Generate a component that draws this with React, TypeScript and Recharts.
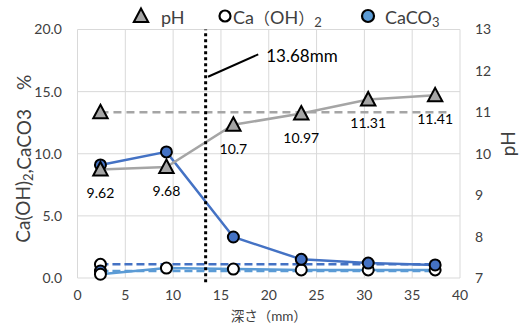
import React from 'react';
import {
  ComposedChart,
  Line,
  XAxis,
  YAxis,
  CartesianGrid,
  ReferenceLine,
  ReferenceDot,
  LabelList,
  Legend,
} from 'recharts';

// ---- data ----
const depthMm = [2.4, 9.3, 16.3, 23.4, 30.4, 37.4];
const phValues = [9.62, 9.68, 10.7, 10.97, 11.31, 11.41];
const caOH2Values = [0.3, 0.8, 0.72, 0.65, 0.65, 0.65];
const caCO3Values = [9.1, 10.15, 3.3, 1.5, 1.2, 1.05];

const phRefDepth = [2.4, 38.9];
const phRefValues = [11.0, 11.0];
const caRefDepth = [2.4, 37.8];
const caOH2RefValues = [1.1, 1.1];
const caCO3RefValues = [0.56, 0.56];

const carbonationLineX = 13.4;
const carbonationLabel = '13.68mm';
const annotationStart = { x: 13.65, y: 16.2 };
const annotationEnd = { x: 18.9, y: 18.0 };

const xTicks = [0, 5, 10, 15, 20, 25, 30, 35, 40];
const leftTicks = [0, 5, 10, 15, 20];
const rightTicks = [7, 8, 9, 10, 11, 12, 13];

const zip = (xs: number[], vs: number[]) => xs.map((x, i) => ({ x, v: vs[i] }));
const phData = zip(depthMm, phValues);
const caOH2Data = zip(depthMm, caOH2Values);
const caCO3Data = zip(depthMm, caCO3Values);
const phRefData = zip(phRefDepth, phRefValues);
const caOH2RefData = zip(caRefDepth, caOH2RefValues);
const caCO3RefData = zip(caRefDepth, caCO3RefValues);

// ---- styles ----
const FONT = "Lato, 'Noto Sans CJK JP', sans-serif";
const GRAY = '#A5A5A5';
const BLUE = '#4472C4';
const LIGHT_BLUE = '#5B9BD5';
const GRID = '#D9D9D9';
const TEXT = '#404040';

const triPath = (cx: number, cy: number) =>
  `M${cx},${cy - 7.5} L${cx + 7.2},${cy + 6} L${cx - 7.2},${cy + 6} Z`;

const TriangleDot = (p: any) => (
  <path key={`t${p.index}`} d={triPath(p.cx, p.cy)} fill={GRAY} stroke="#000" strokeWidth={2} />
);
const OpenDot = (p: any) => (
  <circle key={`o${p.index}`} cx={p.cx} cy={p.cy} r={5.5} fill="#fff" stroke="#000" strokeWidth={2} />
);
const FilledDot = (p: any) => (
  <circle key={`f${p.index}`} cx={p.cx} cy={p.cy} r={5.5} fill={BLUE} stroke="#000" strokeWidth={2} />
);
const firstOnly = (Dot: any) => (p: any) =>
  p.index === 0 ? Dot(p) : <g key={`n${p.index}`} />;

const renderLegend = () => (
  <svg width={523} height={28} style={{ display: 'block' }}>
    <path d={triPath(123, 14)} fill={GRAY} stroke="#000" strokeWidth={2} />
    <text x={143} y={15} dominantBaseline="central" fontSize={18} fill={TEXT} fontFamily={FONT}>
      pH
    </text>
    <circle cx={207} cy={14} r={5.5} fill="#fff" stroke="#000" strokeWidth={2.2} />
    <text x={215} y={15} dominantBaseline="central" fontSize={18} fill={TEXT} fontFamily={FONT}>
      Ca<tspan fontSize={16}>（</tspan>OH<tspan fontSize={16}>）</tspan>
      <tspan fontSize={13} dy={5}>2</tspan>
    </text>
    <circle cx={350} cy={14} r={6} fill={LIGHT_BLUE} stroke="#000" strokeWidth={2.2} />
    <text x={367} y={15} dominantBaseline="central" fontSize={18} fill={TEXT} fontFamily={FONT}>
      CaCO<tspan fontSize={13} dy={5}>3</tspan>
    </text>
  </svg>
);

const LeftAxisLabel = (props: any) => {
  const vb = props.viewBox || {};
  const cx = vb.x + 5;
  const cy = vb.y + vb.height / 2 + 5;
  return (
    <text
      x={cx}
      y={cy}
      transform={`rotate(-90 ${cx} ${cy})`}
      textAnchor="middle"
      dominantBaseline="central"
      fontSize={19}
      fill={TEXT}
      fontFamily={FONT}
    >
      Ca(OH)<tspan fontSize={13} dy={5}>2</tspan>
      <tspan dy={-5}>,CaCO3　%</tspan>
    </text>
  );
};

const RightAxisLabel = (props: any) => {
  const vb = props.viewBox || {};
  const cx = vb.x + 47;
  const cy = vb.y + vb.height / 2 - 10;
  return (
    <text
      x={cx}
      y={cy}
      transform={`rotate(-90 ${cx} ${cy})`}
      textAnchor="middle"
      dominantBaseline="central"
      fontSize={19}
      fill={TEXT}
      fontFamily={FONT}
    >
      pH
    </text>
  );
};

const AnnotationText = (props: any) => {
  const vb = props.viewBox || {};
  return (
    <text x={vb.x + 8} y={vb.y + 1} dominantBaseline="central" fontSize={17} fill="#000" fontFamily={FONT}>
      {carbonationLabel}
    </text>
  );
};

const tickStyle = { fontSize: 14, fill: TEXT, fontFamily: FONT };

export default function App() {
  return (
    <div style={{ position: 'absolute', left: 0, top: 0 }}>
      <ComposedChart
        width={523}
        height={326}
        margin={{ top: 1.5, right: 18, bottom: 18, left: 17.5 }}
      >
        <CartesianGrid yAxisId="left" stroke={GRID} strokeWidth={1} />
        <Legend verticalAlign="top" content={renderLegend} wrapperStyle={{ height: 28 }} />
        <XAxis
          dataKey="x"
          type="number"
          domain={[0, 40]}
          ticks={xTicks}
          allowDuplicatedCategory={false}
          axisLine={false}
          tickLine={false}
          tickSize={4}
          tickMargin={8}
          height={30}
          tick={tickStyle}
          label={{
            value: '深さ（mm）',
            position: 'bottom',
            offset: 3,
            style: { fontSize: 13.5, fill: TEXT, fontFamily: FONT },
          }}
        />
        <YAxis
          yAxisId="left"
          orientation="left"
          domain={[0, 20]}
          ticks={leftTicks}
          tickFormatter={(v: number) => v.toFixed(1)}
          axisLine={false}
          tickLine={false}
          tickSize={6}
          tickMargin={9.5}
          width={60}
          tick={tickStyle}
          label={{ content: LeftAxisLabel }}
        />
        <YAxis
          yAxisId="right"
          orientation="right"
          domain={[7, 13]}
          ticks={rightTicks}
          axisLine={false}
          tickLine={false}
          tickSize={6}
          tickMargin={9}
          width={45}
          tick={{ ...tickStyle, textAnchor: 'start' }}
          label={{ content: RightAxisLabel }}
        />

        <Line
          yAxisId="left"
          data={caOH2RefData}
          dataKey="v"
          type="linear"
          stroke={BLUE}
          strokeWidth={2.5}
          strokeDasharray="8 4"
          dot={firstOnly(OpenDot)}
          activeDot={false}
          isAnimationActive={false}
          legendType="none"
        />
        <Line
          yAxisId="left"
          data={caCO3RefData}
          dataKey="v"
          type="linear"
          stroke={LIGHT_BLUE}
          strokeWidth={2.5}
          strokeDasharray="8 4"
          dot={firstOnly(FilledDot)}
          activeDot={false}
          isAnimationActive={false}
          legendType="none"
        />
        <Line
          yAxisId="left"
          data={caOH2Data}
          dataKey="v"
          type="linear"
          stroke={LIGHT_BLUE}
          strokeWidth={2.5}
          dot={OpenDot}
          activeDot={false}
          isAnimationActive={false}
        />
        <Line
          yAxisId="left"
          data={caCO3Data}
          dataKey="v"
          type="linear"
          stroke={BLUE}
          strokeWidth={2.5}
          dot={FilledDot}
          activeDot={false}
          isAnimationActive={false}
        />
        <Line
          yAxisId="right"
          data={phRefData}
          dataKey="v"
          type="linear"
          stroke={GRAY}
          strokeWidth={2.5}
          strokeDasharray="8 5"
          dot={firstOnly(TriangleDot)}
          activeDot={false}
          isAnimationActive={false}
          legendType="none"
        />
        <Line
          yAxisId="right"
          data={phData}
          dataKey="v"
          type="linear"
          stroke={GRAY}
          strokeWidth={2.5}
          dot={TriangleDot}
          activeDot={false}
          isAnimationActive={false}
        >
          <LabelList
            dataKey="v"
            position="bottom"
            offset={19}
            style={{ fontSize: 14, fill: '#000', fontFamily: FONT }}
          />
        </Line>

        <ReferenceLine
          yAxisId="left"
          segment={[
            { x: carbonationLineX, y: -0.35 },
            { x: carbonationLineX, y: 20 },
          ]}
          ifOverflow="visible"
          stroke="#000"
          strokeWidth={3}
          strokeDasharray="3 3"
        />
        <ReferenceLine
          yAxisId="left"
          segment={[annotationStart, annotationEnd]}
          ifOverflow="visible"
          stroke="#000"
          strokeWidth={2}
        />
        <ReferenceDot
          yAxisId="left"
          x={annotationEnd.x}
          y={annotationEnd.y}
          r={0}
          ifOverflow="visible"
          label={{ content: AnnotationText }}
        />
      </ComposedChart>
    </div>
  );
}
